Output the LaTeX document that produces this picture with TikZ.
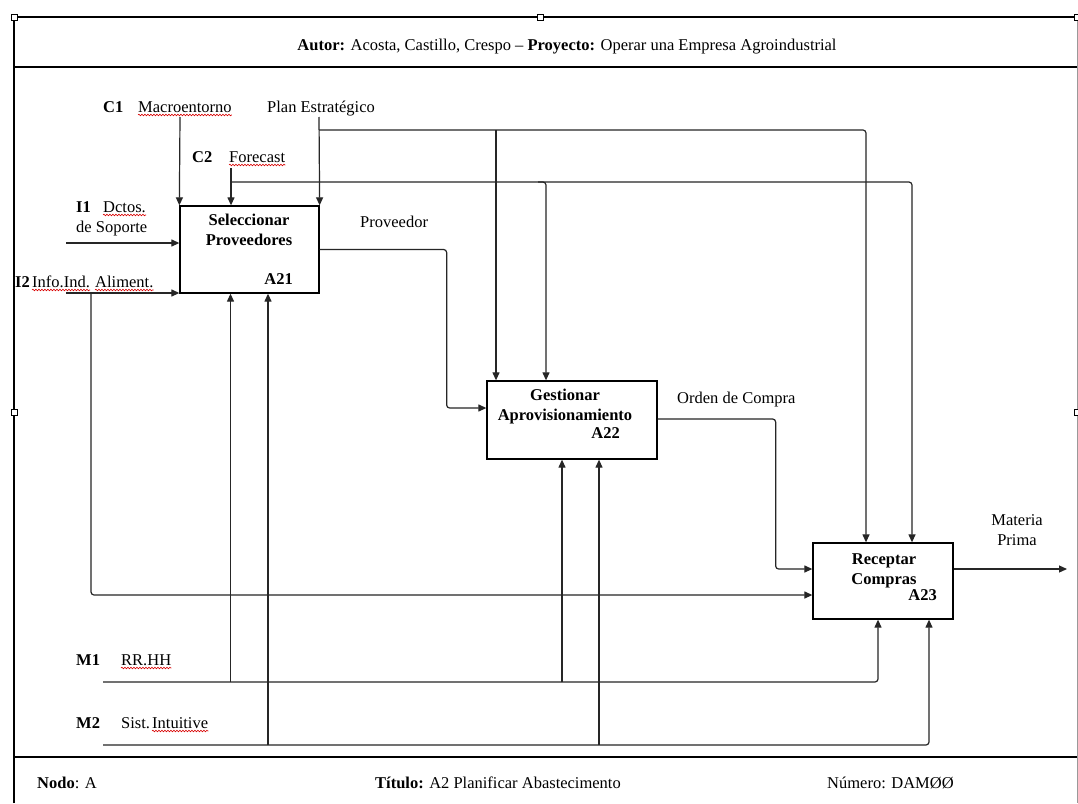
\documentclass[tikz,border=0pt]{standalone}
\usepackage{fontspec}
\setmainfont{Liberation Serif}
\usetikzlibrary{arrows.meta,positioning,calc,decorations.pathmorphing}

\begin{document}
\begin{tikzpicture}[
  x=1pt, y=-1pt,
  font=\fontsize{16.5}{20}\selectfont,
  >={Triangle[length=8pt,width=7pt]},
  act/.style={rectangle, draw, line width=1.3pt, inner sep=0pt},
  actname/.style={align=center, inner sep=0pt, font=\fontsize{16.5}{20}\selectfont\bfseries},
  lbl/.style={inner sep=0pt, anchor=base west},
  flow/.style={->, line width=1.2pt, draw=black!85, rounded corners=3pt},
  sheet/.style={line width=2pt},
  spell/.style={draw=red!85!black, line width=0.6pt, decorate,
                decoration={snake, amplitude=0.8pt, segment length=3pt}},
  grip/.style={draw, line width=0.8pt, fill=white, minimum size=6pt, inner sep=0pt},
]

\useasboundingbox (0,0) rectangle (1078,803);
\fill[white] (0,0) rectangle (1078,803);

% frame
\draw[sheet] (14,803) -- (14,17) -- (1078,17);
\draw[sheet] (14,67) -- (1078,67);
\draw[sheet] (14,757) -- (1078,757);
\draw[black!40, line width=0.6pt] (1077,17) -- (1077,803);
\foreach \p [count=\n] in {(14,17),(540,17),(1077,17),(14,412),(1077,412)}
  \node[grip] (h\n) at \p {};

\node[anchor=base, inner sep=0pt] (head) at (567,50)
  {\textbf{Autor:} Acosta, Castillo, Crespo – \textbf{Proyecto:} Operar una Empresa Agroindustrial};
\node[lbl] (nodo) at (37,788) {\textbf{Nodo}: A};
\node[lbl] (titulo) at (375,788) {\textbf{Título:} A2 Planificar Abastecimento};
\node[lbl] (numero) at (827,788) {Número: DAMØØ};

% activities
\node[act, minimum width=139pt, minimum height=87pt] (a21) at (249.5,249.5) {};
\node[act, minimum width=170pt, minimum height=78pt] (a22) at (572,420) {};
\node[act, minimum width=140pt, minimum height=76pt] (a23) at (883,581) {};

\node[actname, anchor=north] (a21t) at (249,214) {Seleccionar\\Proveedores};
\node[actname, anchor=base east] (a21n) at (293,284) {A21};
\node[actname, anchor=north] (a22t) at (565,389) {Gestionar\\Aprovisionamiento};
\node[actname, anchor=base east] (a22n) at (620,438) {A22};
\node[actname, anchor=north] (a23t) at (884,553) {Receptar\\Compras};
\node[actname, anchor=base east] (a23n) at (937,600) {A23};

% labels
\node[lbl] (c1l) at (103,112) {\textbf{C1}};
\node[lbl] (macro) at (138,112) {Macroentorno};
\node[lbl] (plan) at (267,112) {Plan Estratégico};
\node[lbl] (c2l) at (192,162) {\textbf{C2}};
\node[lbl] (fcst) at (229,162) {Forecast};
\node[lbl] (i1l) at (76,212) {\textbf{I1}};
\node[lbl] (dctos) at (103,212) {Dctos.};
\node[lbl] (sop) at (76,232) {de Soporte};
\node[lbl] (i2l) at (15,287) {\textbf{I2}};
\node[lbl] (info) at (32,287) {Info.Ind.};
\node[lbl] (alim) at (95,287) {Aliment.};
\node[lbl] (prov) at (360,227) {Proveedor};
\node[lbl] (orden) at (677,403) {Orden de Compra};
\node[anchor=base, inner sep=0pt] (mat) at (1017,525) {Materia};
\node[anchor=base, inner sep=0pt] (prima) at (1017,545) {Prima};
\node[lbl] (m1l) at (76,665) {\textbf{M1}};
\node[lbl] (rrhh) at (121,665) {RR.HH};
\node[lbl] (m2l) at (76,728) {\textbf{M2}};
\node[lbl] (sist) at (121,728) {Sist.};
\node[lbl] (intu) at (152,728) {Intuitive};

\foreach \w in {macro,fcst,dctos,info,alim,rrhh,intu}
  \draw[spell] ([yshift=-3pt]\w.base west) -- ([yshift=-3pt]\w.base east);

% controls
\coordinate (c1) at (180,117);
\coordinate (pe) at (319,117);
\coordinate (c2) at (231,168);
\coordinate (pj) at (319,130);
\coordinate (fj) at (231,182);
\coordinate (a22p) at ([xshift=-76pt]a22.north);
\coordinate (a22f) at ([xshift=-26pt]a22.north);

\draw[flow] (c1) -- (a21.north west);
\draw[flow] (pe) -- (a21.north east);
\draw[flow] (c2) -- (c2 |- a21.north);
\draw[flow] (pj) -| ([xshift=-17pt]a23.north);
\draw[flow] (fj) -| ([xshift=29pt]a23.north);
\draw[flow] (a22p |- pj) -- (a22p);
\draw[flow] ([xshift=-8pt]a22f |- fj) -| (a22f);

% inputs and outputs
\coordinate (i1) at (66,243);
\coordinate (i2) at (66,293);
\coordinate (ij) at (91,293);
\coordinate (out) at (1067,569);

\draw[flow] (i1) -- (i1 -| a21.west);
\draw[flow] (i2) -- (i2 -| a21.west);
\draw[flow] (ij) |- ([yshift=-14pt]a23.west);
\draw[flow] (a21.east) -- ++(127,0) |- ([yshift=12pt]a22.west);
\draw[flow] ([yshift=1pt]a22.east) -- ++(118,0) |- ([yshift=12pt]a23.west);
\draw[flow] ([yshift=12pt]a23.east) -- (out);

% mechanisms
\coordinate (m1) at (103,682);
\coordinate (m2) at (103,745);
\coordinate (a21m1) at ([xshift=-19pt]a21.south);
\coordinate (a21m2) at ([xshift=18.5pt]a21.south);
\coordinate (a22m1) at ([xshift=-10pt]a22.south);
\coordinate (a22m2) at ([xshift=27pt]a22.south);
\coordinate (a23m1) at ([xshift=-5pt]a23.south);
\coordinate (a23m2) at ([xshift=46pt]a23.south);

\draw[flow] (m1) -| (a23m1);
\draw[flow] (m2) -| (a23m2);
\foreach \t in {a21m1,a22m1} \draw[flow] (\t |- m1) -- (\t);
\foreach \t in {a21m2,a22m2} \draw[flow] (\t |- m2) -- (\t);

\end{tikzpicture}
\end{document}
